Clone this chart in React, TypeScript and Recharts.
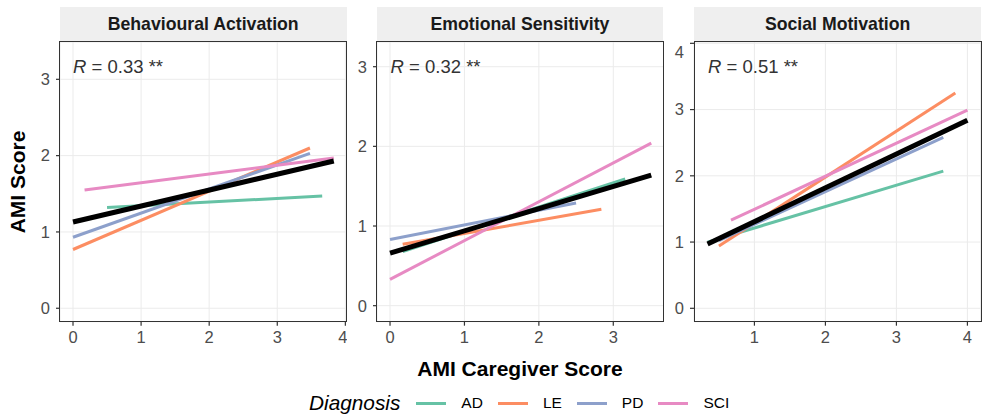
import { LineChart, Line, XAxis, YAxis, CartesianGrid } from 'recharts'

const FONT = '"Liberation Sans", Arial, Helvetica, sans-serif'

const diagnoses = ['AD', 'LE', 'PD', 'SCI']
const diagnosisColors = ['#66C2A5', '#FC8D62', '#8DA0CB', '#E78AC3']

const panelTitles = ['Behavioural Activation', 'Emotional Sensitivity', 'Social Motivation']
const rValues = ['0.33', '0.32', '0.51']
const rStars = ['**', '**', '**']

// fitted lines per diagnosis: [xStart, yStart, xEnd, yEnd], order AD, LE, PD, SCI
const behaviouralLines = [
  [0.5, 1.32, 3.66, 1.47],
  [0, 0.77, 3.48, 2.1],
  [0, 0.93, 3.48, 2.03],
  [0.17, 1.55, 3.83, 1.97],
]
const behaviouralOverall = [0, 1.13, 3.83, 1.93]

const emotionalLines = [
  [0.17, 0.68, 3.16, 1.59],
  [0.17, 0.77, 2.84, 1.21],
  [0, 0.83, 2.5, 1.29],
  [0, 0.33, 3.51, 2.04],
]
const emotionalOverall = [0, 0.66, 3.51, 1.64]

const socialLines = [
  [0.34, 1.0, 3.66, 2.07],
  [0.5, 0.94, 3.83, 3.25],
  [0.5, 1.02, 3.66, 2.58],
  [0.67, 1.33, 4.0, 2.99],
]
const socialOverall = [0.34, 0.97, 4.0, 2.84]

const xTicksA = [0, 1, 2, 3, 4]
const xTicksB = [0, 1, 2, 3]
const xTicksC = [1, 2, 3, 4]
const yTicksA = [0, 1, 2, 3]
const yTicksC = [0, 1, 2, 3, 4]

function seg(s: number[]) {
  return [{ x: s[0], y: s[1] }, { x: s[2], y: s[3] }]
}

const PLOT_TOP = 42
const PLOT_BOTTOM = 321.7
const Y_AXIS_W = 40
const X_AXIS_H = 34

function Panel({
  idx, left, right, xDomain, yDomain, xTicks, yTicks, lines, overall, rLeft,
}: {
  idx: number
  left: number
  right: number
  xDomain: [number, number]
  yDomain: [number, number]
  xTicks: number[]
  yTicks: number[]
  lines: number[][]
  overall: number[]
  rLeft: number
}) {
  const plotW = right - left
  const plotH = PLOT_BOTTOM - PLOT_TOP
  const tickStyle = { fill: '#4D4D4D', fontSize: 16.5, fontFamily: FONT }
  return (
    <>
      {/* strip */}
      <div style={{
        position: 'absolute', left, top: 7, width: plotW, height: PLOT_TOP - 7,
        background: '#EFEFEF', display: 'flex', alignItems: 'center', justifyContent: 'center',
        fontFamily: FONT, fontWeight: 700, fontSize: 17.7, color: '#1A1A1A',
      }}>
        {panelTitles[idx]}
      </div>
      <div style={{ position: 'absolute', left: left - Y_AXIS_W, top: PLOT_TOP }}>
        <LineChart
          width={plotW + Y_AXIS_W}
          height={plotH + X_AXIS_H}
          margin={{ top: 0, right: 0, bottom: 0, left: 0 }}
        >
          <CartesianGrid stroke="#EBEBEB" strokeWidth={1} />
          <XAxis
            dataKey="x" type="number" domain={xDomain} ticks={xTicks} allowDataOverflow
            height={X_AXIS_H} axisLine={false} tickSize={4} tickMargin={6}
            tickLine={{ stroke: '#333333', strokeWidth: 1.2 }} tick={tickStyle}
          />
          <YAxis
            dataKey="y" type="number" domain={yDomain} ticks={yTicks} allowDataOverflow
            width={Y_AXIS_W} axisLine={false} tickSize={4} tickMargin={6}
            tickLine={{ stroke: '#333333', strokeWidth: 1.2 }} tick={tickStyle}
          />
          {lines.map((s, i) => (
            <Line
              key={diagnoses[i]}
              data={seg(s)}
              dataKey="y"
              stroke={diagnosisColors[i]}
              strokeWidth={3}
              dot={false}
              activeDot={false}
              isAnimationActive={false}
            />
          ))}
          <Line
            data={seg(overall)}
            dataKey="y"
            stroke="#000000"
            strokeWidth={5}
            dot={false}
            activeDot={false}
            isAnimationActive={false}
          />
        </LineChart>
      </div>
      {/* panel border */}
      <div style={{
        position: 'absolute', left: left - 0.75, top: PLOT_TOP - 0.75, width: plotW + 1.5, height: plotH + 1.5,
        border: '1.5px solid #333333', boxSizing: 'border-box', pointerEvents: 'none',
      }} />
      {/* correlation label */}
      <div style={{
        position: 'absolute', left: rLeft, top: 56, fontFamily: FONT, fontSize: 18.5,
        color: '#333333', whiteSpace: 'pre', lineHeight: '22px',
      }}>
        <i>R</i>{' = '}{rValues[idx]}{' '}{rStars[idx]}
      </div>
    </>
  )
}

export default function App() {
  return (
    <div style={{ position: 'absolute', left: 0, top: 0, width: 982, height: 417, background: '#fff', overflow: 'hidden' }}>
      <Panel idx={0} left={59.7} right={346.7} xDomain={[-0.191, 4.024]} yDomain={[-0.176, 3.489]}
        xTicks={xTicksA} yTicks={yTicksA} lines={behaviouralLines} overall={behaviouralOverall} rLeft={73} />
      <Panel idx={1} left={376.7} right={663.3} xDomain={[-0.175, 3.676]} yDomain={[-0.201, 3.31]}
        xTicks={xTicksB} yTicks={yTicksA} lines={emotionalLines} overall={emotionalOverall} rLeft={390.5} />
      <Panel idx={2} left={694.3} right={981} xDomain={[0.149, 4.187]} yDomain={[-0.202, 4.02]}
        xTicks={xTicksC} yTicks={yTicksC} lines={socialLines} overall={socialOverall} rLeft={708} />

      {/* y axis title */}
      <div style={{
        position: 'absolute', left: 17.5, top: 182, transform: 'translate(-50%, -50%) rotate(-90deg)',
        fontFamily: FONT, fontWeight: 700, fontSize: 21, color: '#000', whiteSpace: 'nowrap',
      }}>
        AMI Score
      </div>
      {/* x axis title */}
      <div style={{
        position: 'absolute', left: 520, top: 369, transform: 'translate(-50%, -50%)',
        fontFamily: FONT, fontWeight: 700, fontSize: 21, color: '#000', whiteSpace: 'nowrap',
      }}>
        AMI Caregiver Score
      </div>
      {/* legend */}
      <div style={{
        position: 'absolute', left: 309, top: 403, transform: 'translateY(-50%)',
        display: 'flex', alignItems: 'center', fontFamily: FONT, whiteSpace: 'nowrap',
      }}>
        <span style={{ fontStyle: 'italic', fontSize: 20.8, color: '#000', marginRight: 16 }}>Diagnosis</span>
        {diagnoses.map((d, i) => (
          <span key={d} style={{ display: 'flex', alignItems: 'center' }}>
            <span style={{ display: 'inline-block', width: 30, height: 3, background: diagnosisColors[i], marginRight: 15 }} />
            <span style={{ fontSize: 15.5, color: '#000', marginRight: 15 }}>{d}</span>
          </span>
        ))}
      </div>
    </div>
  )
}
